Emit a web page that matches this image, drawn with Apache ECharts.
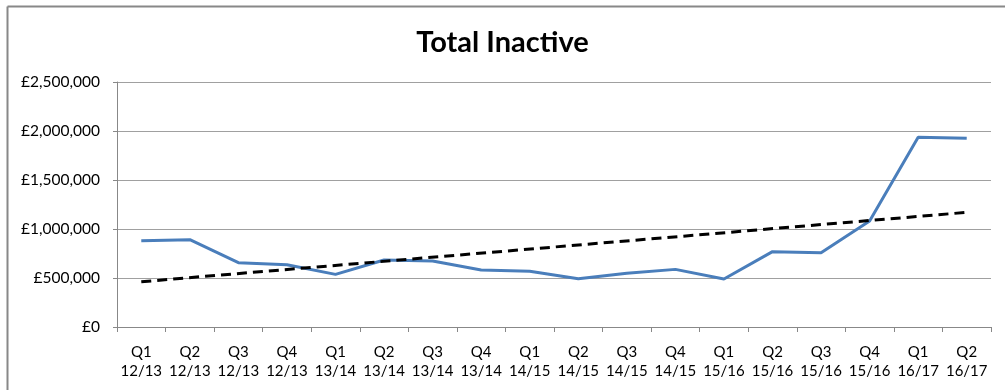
<!DOCTYPE html>
<html>
<head>
<meta charset="utf-8">
<script src="https://cdn.jsdelivr.net/npm/echarts@6/dist/echarts.min.js"></script>
<style>
html,body{margin:0;padding:0;background:#fff;}
#chart{width:1005px;height:390px;}
</style>
</head>
<body>
<div id="chart"></div>
<script>
const quarters = ['Q1','Q2','Q3','Q4','Q1','Q2','Q3','Q4','Q1','Q2','Q3','Q4','Q1','Q2','Q3','Q4','Q1','Q2'];
const years = ['12/13','12/13','12/13','12/13','13/14','13/14','13/14','13/14','14/15','14/15','14/15','14/15','15/16','15/16','15/16','15/16','16/17','16/17'];
const totalInactive = [880000, 891000, 656000, 636000, 537000, 684000, 673000, 582000, 568000, 493000, 548000, 588000, 490000, 769000, 758000, 1082000, 1936000, 1925000];
const trendStart = 462000;
const trendEnd = 1170000;
const yTicks = [0, 500000, 1000000, 1500000, 2000000, 2500000];

const categories = quarters.map((q, i) => q + '\n' + years[i]);

const chart = echarts.init(document.getElementById('chart'));
chart.setOption({
  animation: false,
  backgroundColor: '#fff',
  title: {
    text: 'Total Inactive',
    left: 'center',
    top: 23,
    textStyle: { fontFamily: 'Lato', fontWeight: 'bold', fontSize: 29, color: '#000' }
  },
  grid: { left: 117, right: 14, top: 82, bottom: 63 },
  xAxis: {
    type: 'category',
    data: categories,
    boundaryGap: true,
    axisLine: { lineStyle: { color: '#888', width: 1 } },
    axisTick: { show: true, length: 5, lineStyle: { color: '#888' } },
    axisLabel: {
      color: '#000', fontFamily: 'Lato', fontSize: 15, lineHeight: 19,
      margin: 16, interval: 0
    }
  },
  yAxis: {
    type: 'value',
    min: yTicks[0],
    max: yTicks[yTicks.length - 1],
    interval: 500000,
    axisLine: { show: true, lineStyle: { color: '#888', width: 1 } },
    axisTick: { show: true, length: 4, lineStyle: { color: '#888' } },
    splitLine: { lineStyle: { color: '#a0a0a0', width: 1 } },
    axisLabel: {
      color: '#000', fontFamily: 'Lato', fontSize: 15.5, margin: 17,
      formatter: v => '£' + v.toLocaleString('en-GB')
    }
  },
  series: [{
    name: 'Total Inactive',
    type: 'line',
    data: totalInactive,
    symbol: 'none',
    z: 3,
    lineStyle: { color: '#4A7EBB', width: 3 },
    markLine: {
      silent: true,
      symbol: 'none',
      label: { show: false },
      lineStyle: { color: '#000', type: [10, 6], width: 3 },
      data: [[
        { coord: [0, trendStart] },
        { coord: [quarters.length - 1, trendEnd] }
      ]]
    }
  }],
  graphic: [
    { type: 'line', shape: { x1: 7.5, y1: 6.5, x2: 1005, y2: 6.5 }, style: { stroke: '#888', lineWidth: 2 } },
    { type: 'line', shape: { x1: 7.5, y1: 6.5, x2: 7.5, y2: 390 }, style: { stroke: '#888', lineWidth: 2 } }
  ]
});
</script>
</body>
</html>
